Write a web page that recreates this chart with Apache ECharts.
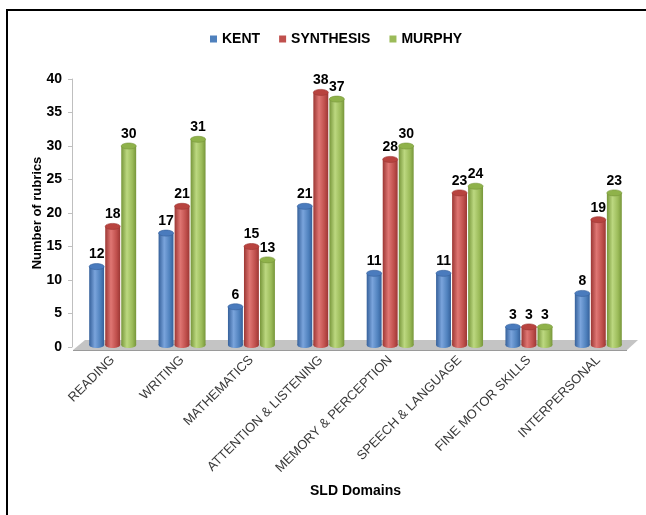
<!DOCTYPE html>
<html>
<head>
<meta charset="utf-8">
<script src="https://cdn.jsdelivr.net/npm/echarts@6/dist/echarts.min.js"></script>
<style>
  html, body { margin: 0; padding: 0; background: #fff; }
  #chart { width: 646px; height: 515px; }
</style>
</head>
<body>
<div id="chart"></div>
<script>
// SLD domain categories and rubric counts per source
const categories = ['READING', 'WRITING', 'MATHEMATICS', 'ATTENTION & LISTENING',
  'MEMORY & PERCEPTION', 'SPEECH & LANGUAGE', 'FINE MOTOR SKILLS', 'INTERPERSONAL'];
const kent = [12, 17, 6, 21, 11, 11, 3, 8];
const synthesis = [18, 21, 15, 38, 28, 23, 3, 19];
const murphy = [30, 31, 13, 37, 30, 24, 3, 23];
const yMin = 0, yMax = 40, yStep = 5;

const FONT = 'Liberation Sans, Arial, sans-serif';

// colour sets for the cylinders: base, dark edge, highlight, cap
const palettes = [
  { base: '#4F81BD', dark: '#35609a', light: '#7aa4dc', cap: '#4a7bbd' },
  { base: '#C0504D', dark: '#9c3734', light: '#df7673', cap: '#b8433f' },
  { base: '#9BBB59', dark: '#77963a', light: '#bcd880', cap: '#8fb24a' }
];

function bodyFill(p) {
  return new echarts.graphic.LinearGradient(0, 0, 1, 0, [
    { offset: 0, color: p.dark },
    { offset: 0.38, color: p.light },
    { offset: 0.75, color: p.base },
    { offset: 1, color: p.dark }
  ]);
}

// draws one cylinder per data item, side-by-side within a category band
function cylinder(slot, p) {
  return function (params, api) {
    const ci = api.value(0), v = api.value(1);
    const band = api.size([1, 0])[0];
    const w = band * 0.215, step = band * 0.231;
    const top = api.coord([ci, v]);
    const base = api.coord([ci, 0]);
    const cx = top[0] + (slot - 1) * step;
    const yTop = top[1];
    const yBot = base[1] - 2;
    const rx = w / 2, ry = 3;
    const fill = bodyFill(p);
    return {
      type: 'group',
      children: [
        { type: 'ellipse', shape: { cx: cx, cy: yBot, rx: rx, ry: ry }, style: { fill: fill } },
        { type: 'rect', shape: { x: cx - rx, y: yTop, width: w, height: yBot - yTop }, style: { fill: fill } },
        { type: 'ellipse', shape: { cx: cx, cy: yTop, rx: rx, ry: ry },
          style: { fill: p.cap, stroke: p.dark, lineWidth: 0.6 } },
        { type: 'text', style: { text: String(v), x: cx, y: yTop - ry - 2,
          align: 'center', verticalAlign: 'bottom',
          font: 'bold 14px ' + FONT, fill: '#000' } }
      ]
    };
  };
}

// grey floor under the bars
function floor(params, api) {
  const cs = params.coordSys;
  const y = api.coord([0, 0])[1];
  const x0 = cs.x, x1 = cs.x + cs.width;
  return {
    type: 'group',
    children: [
      { type: 'polygon', shape: { points: [[x0 - 5, y + 3], [x0 + 7, y - 7], [x1 + 5, y - 7], [x1 - 6, y + 3]] },
        style: { fill: '#c4c4c4' } },
      { type: 'polygon', shape: { points: [[x0 - 5, y + 3], [x1 - 6, y + 3], [x1 - 6, y + 4], [x0 - 5, y + 4]] },
        style: { fill: '#9a9a9a' } }
    ]
  };
}

const seriesDefs = [
  { name: 'KENT', values: kent },
  { name: 'SYNTHESIS', values: synthesis },
  { name: 'MURPHY', values: murphy }
];

const chart = echarts.init(document.getElementById('chart'), null, { renderer: 'canvas' });

chart.setOption({
  animation: false,
  backgroundColor: '#fff',
  textStyle: { fontFamily: FONT },
  graphic: [
    { type: 'line', shape: { x1: 6, y1: 10, x2: 646, y2: 10 }, style: { stroke: '#000', lineWidth: 2 } },
    { type: 'line', shape: { x1: 7, y1: 9, x2: 7, y2: 515 }, style: { stroke: '#000', lineWidth: 2 } }
  ],
  legend: {
    data: seriesDefs.map(s => s.name),
    top: 27,
    left: 205,
    icon: 'rect',
    itemWidth: 7,
    itemHeight: 7,
    itemGap: 19,
    textStyle: { fontFamily: FONT, fontWeight: 'bold', fontSize: 14, color: '#000' }
  },
  grid: { left: 78, right: 13, top: 79, bottom: 168, containLabel: false },
  xAxis: {
    type: 'category',
    data: categories,
    axisLine: { show: false },
    axisTick: { show: false },
    axisLabel: { interval: 0, rotate: 45, margin: 11, fontSize: 13, color: '#3a3a3a', fontFamily: FONT },
    name: 'SLD Domains',
    nameLocation: 'middle',
    nameGap: 137,
    nameMoveOverlap: false,
    nameTextStyle: { fontFamily: FONT, fontWeight: 'bold', fontSize: 14, color: '#000' }
  },
  yAxis: {
    type: 'value',
    min: yMin, max: yMax, interval: yStep,
    offset: 6,
    axisLine: { show: true, lineStyle: { color: '#bfbfbf' } },
    axisTick: { show: true, length: 4, lineStyle: { color: '#bfbfbf' } },
    splitLine: { show: false },
    axisLabel: { margin: 10, fontSize: 14, fontWeight: 'bold', color: '#000', fontFamily: FONT },
    name: 'Number of rubrics',
    nameLocation: 'middle',
    nameGap: 28,
    nameMoveOverlap: false,
    nameTextStyle: { fontFamily: FONT, fontWeight: 'bold', fontSize: 13, color: '#000' }
  },
  series: [
    { type: 'custom', name: 'floor', renderItem: floor, data: [[0, 0]], encode: { x: 0, y: 1 },
      silent: true, z: 1 }
  ].concat(seriesDefs.map((s, k) => ({
    type: 'custom',
    name: s.name,
    renderItem: cylinder(k, palettes[k]),
    itemStyle: { color: palettes[k].base },
    encode: { x: 0, y: 1 },
    data: s.values.map((v, i) => [i, v]),
    z: 2 + k
  })))
});
</script>
</body>
</html>
